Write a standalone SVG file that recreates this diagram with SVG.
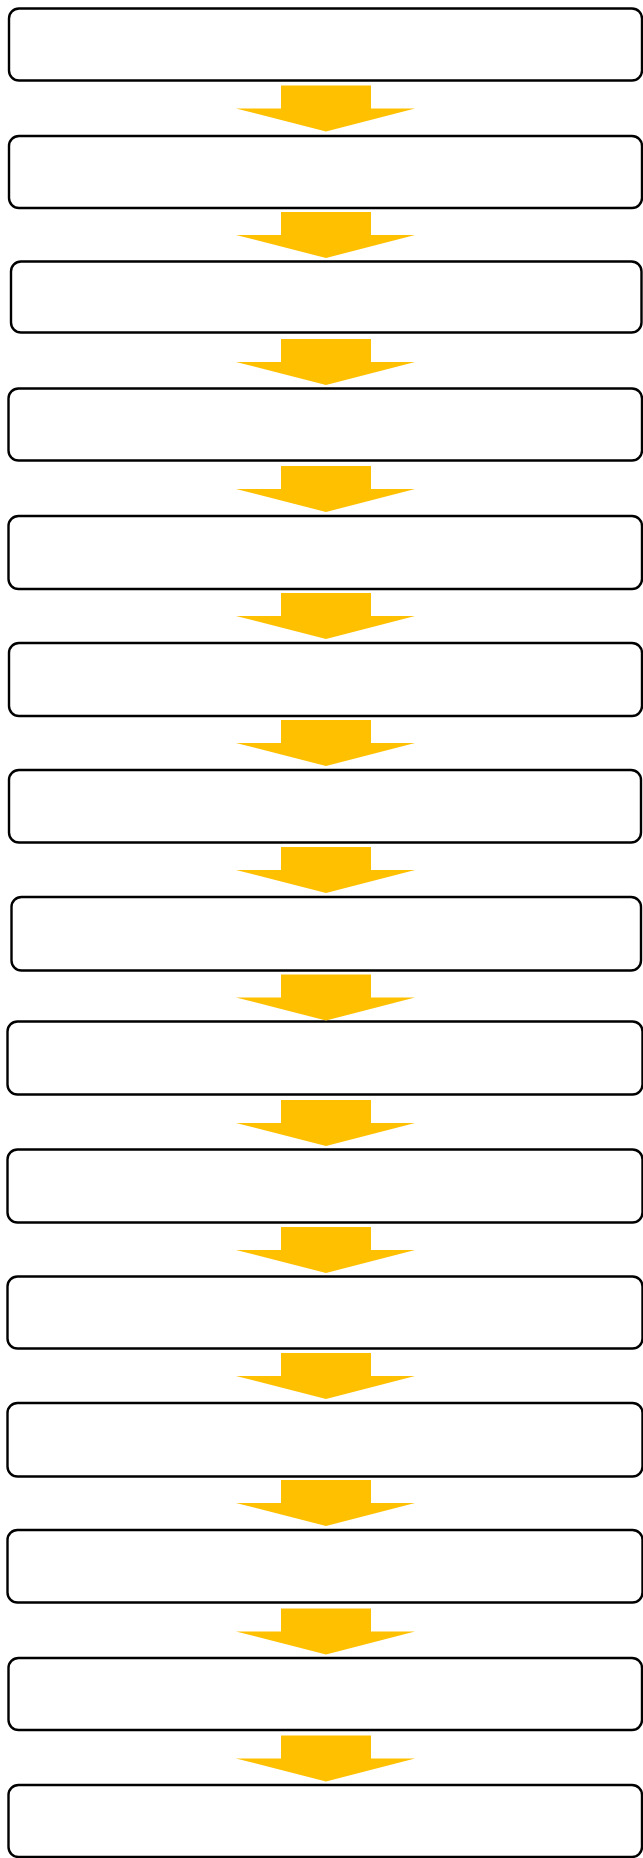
<svg xmlns="http://www.w3.org/2000/svg" width="643" height="1858" viewBox="0 0 643 1858">
  <style>
    .step { fill: #ffffff; stroke: #000000; stroke-width: 2.4; }
    .flow { fill: #ffc000; stroke: none; }
  </style>
  <defs>
    <!-- block arrow pointing down, origin at top of its shaft, 46 px tall -->
    <polygon id="down" class="flow" points="281,0 371,0 371,23 415,23 326,46 236,23 281,23"/>
  </defs>
  <rect width="643" height="1858" fill="#ffffff"/>

  <!-- process steps -->
  <g id="step1"><rect class="step" x="9" y="8.5" width="633" height="72" rx="10"/></g>
  <g id="step2"><rect class="step" x="9" y="136" width="633" height="72" rx="10"/></g>
  <g id="step3"><rect class="step" x="11" y="261.5" width="630.5" height="71" rx="10"/></g>
  <g id="step4"><rect class="step" x="8.5" y="388.5" width="633.5" height="72" rx="10"/></g>
  <g id="step5"><rect class="step" x="8.5" y="516" width="633.5" height="73" rx="10"/></g>
  <g id="step6"><rect class="step" x="9" y="643" width="633" height="73" rx="10"/></g>
  <g id="step7"><rect class="step" x="9" y="770" width="632" height="72.5" rx="10"/></g>
  <g id="step8"><rect class="step" x="11.5" y="897" width="629.5" height="73.5" rx="10"/></g>
  <g id="step9"><rect class="step" x="7.5" y="1021.5" width="635" height="73" rx="10"/></g>
  <g id="step10"><rect class="step" x="7.5" y="1149.5" width="635" height="73" rx="10"/></g>
  <g id="step11"><rect class="step" x="7.5" y="1276.5" width="635" height="72" rx="10"/></g>
  <g id="step12"><rect class="step" x="7.5" y="1403" width="635" height="73.5" rx="10"/></g>
  <g id="step13"><rect class="step" x="7.5" y="1530" width="635" height="72.5" rx="10"/></g>
  <g id="step14"><rect class="step" x="8.5" y="1658" width="633.5" height="72" rx="10"/></g>
  <g id="step15"><rect class="step" x="8.5" y="1785" width="633.5" height="72" rx="10"/></g>

  <!-- connectors -->
  <g id="connectors">
    <use href="#down" y="85.5"/>
    <use href="#down" y="212"/>
    <use href="#down" y="339"/>
    <use href="#down" y="466"/>
    <use href="#down" y="593"/>
    <use href="#down" y="720"/>
    <use href="#down" y="847"/>
    <use href="#down" y="974.5"/>
    <use href="#down" y="1100"/>
    <use href="#down" y="1227"/>
    <use href="#down" y="1353"/>
    <use href="#down" y="1480"/>
    <use href="#down" y="1608.5"/>
    <use href="#down" y="1735.5"/>
  </g>
</svg>
